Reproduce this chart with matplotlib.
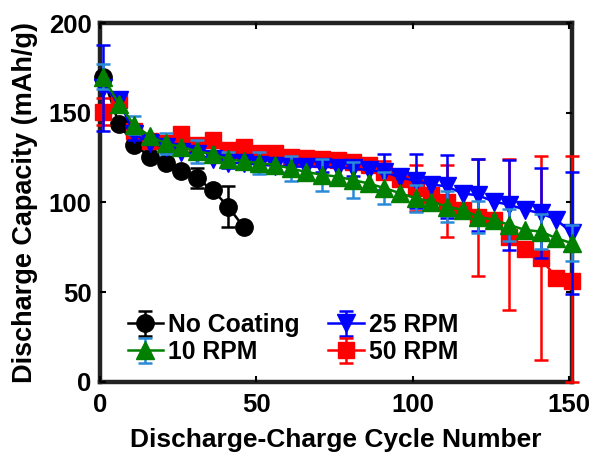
import numpy as np
import matplotlib
matplotlib.use("Agg")
import matplotlib.pyplot as plt

plt.rcParams['font.family'] = ['Liberation Sans', 'DejaVu Sans']
plt.rcParams['font.weight'] = 'bold'

# ---- data ----
cycles = np.arange(1, 152, 5)            # 1, 6, ..., 151
cycles_nc = np.arange(1, 47, 5)          # 1, 6, ..., 46

no_coating = [170, 144, 132, 125.6, 121.9, 117.6, 113.5, 107, 97.7, 86.2]
no_coating_err = [3, 2, 2, 5.5, 11.6]    # at cycles 1, 11, 21, 31, 41

rpm10 = [170, 155, 143, 137, 133, 131, 128.5, 127, 124, 123, 122, 121, 119,
         117, 115.5, 114.4, 112.5, 110.6, 108, 105.2, 102.4, 100.5, 97.7, 95.9,
         92.1, 90.3, 87.5, 84.7, 83.8, 80.1, 77.3]
rpm10_err = [7, 5, 6, 6.5, 4, 6, 7, 9, 10, 9, 7.5, 8.5, 9, 9, 10, 10]

rpm25 = [164, 157, 138, 133, 131, 128, 127, 124, 122, 122, 121, 120.5, 120,
         120, 120, 119.5, 119, 118, 117, 114, 112, 110, 109, 105, 104, 100.5,
         98.7, 96, 94, 90.5, 83]
rpm25_err = [24, 3, 3, 3, 3, 3, 3, 3, 4, 10, 15, 17.5, 20, 25, 25, 34]

rpm50 = [150.5, 157, 140, 134, 133, 138, 132, 135, 129, 131, 127.5, 127.5,
         125.6, 124.7, 124, 123.5, 122.8, 121, 117, 113, 108, 104, 100, 96,
         92, 90, 81, 74, 69, 58, 56]
rpm50_err_low = [7.5, 3, 3, 3, 3, 3, 3, 3, 3, 4, 13, 19, 33, 41, 57, 56]
rpm50_err_high = [7.5, 3, 3, 3, 3, 3, 3, 3, 3, 6, 13, 21, 32, 43, 57, 70]

labels = ['No Coating', '10 RPM', '25 RPM', '50 RPM']


def full(err, n):
    e = np.zeros(n)
    e[::2] = err
    return e


fig = plt.figure(figsize=(5.92, 4.53), dpi=100)
ax = fig.add_axes([0.169, 0.157, 0.797, 0.792])

common = dict(linewidth=1.8, elinewidth=1.8, capsize=5, capthick=1.8,
              errorevery=(0, 2), clip_on=False)

h_nc = ax.errorbar(cycles_nc, no_coating, yerr=full(no_coating_err, len(cycles_nc)),
                   color='black', ecolor='black', marker='o', markersize=12.5,
                   label=labels[0], zorder=2, **common)
h50 = ax.errorbar(cycles, rpm50,
                  yerr=[full(rpm50_err_low, len(cycles)), full(rpm50_err_high, len(cycles))],
                  color='#ff0000', ecolor='#ff0000', marker='s', markersize=11,
                  label=labels[3], zorder=3, **common)
h25 = ax.errorbar(cycles, rpm25, yerr=full(rpm25_err, len(cycles)),
                  color='#0000ff', ecolor='#0000ff', marker='v', markersize=13,
                  label=labels[2], zorder=4, **common)
h10 = ax.errorbar(cycles, rpm10, yerr=full(rpm10_err, len(cycles)),
                  color='#007f00', ecolor='#2a8ad8', marker='^', markersize=13,
                  label=labels[1], zorder=5, **common)

ax.set_xlim(0, 151)
ax.set_ylim(0, 200)
ax.set_xticks([0, 50, 100, 150])
ax.set_yticks([0, 50, 100, 150, 200])
ax.tick_params(direction='in', length=4, width=1.5, top=True, right=True,
               labelsize=18.5)
ax.tick_params(axis='x', pad=8)
ax.tick_params(axis='y', pad=6)
for lab in ax.get_xticklabels() + ax.get_yticklabels():
    lab.set_fontweight('bold')
for s in ax.spines.values():
    s.set_linewidth(3.2)
    s.set_color('#222222')
    s.set_zorder(1)

ax.set_xlabel('Discharge-Charge Cycle Number', fontsize=19, fontweight='bold', va='center')
ax.set_ylabel('Discharge Capacity (mAh/g)', fontsize=19.5, fontweight='bold', va='center')
ax.xaxis.set_label_coords(0.5, -0.162)
ax.yaxis.set_label_coords(-0.159, 0.5)

leg = ax.legend([h_nc, h10, h25, h50], [labels[0], labels[1], labels[2], labels[3]],
                ncol=2, frameon=False, loc='lower left', bbox_to_anchor=(0.059, 0.05),
                prop={'size': 17.8, 'weight': 'bold'}, handlelength=1.42,
                handletextpad=0.2, columnspacing=1.17, labelspacing=0.12,
                borderaxespad=0.0, borderpad=0.0)

fig.savefig('out.png', dpi=100)
